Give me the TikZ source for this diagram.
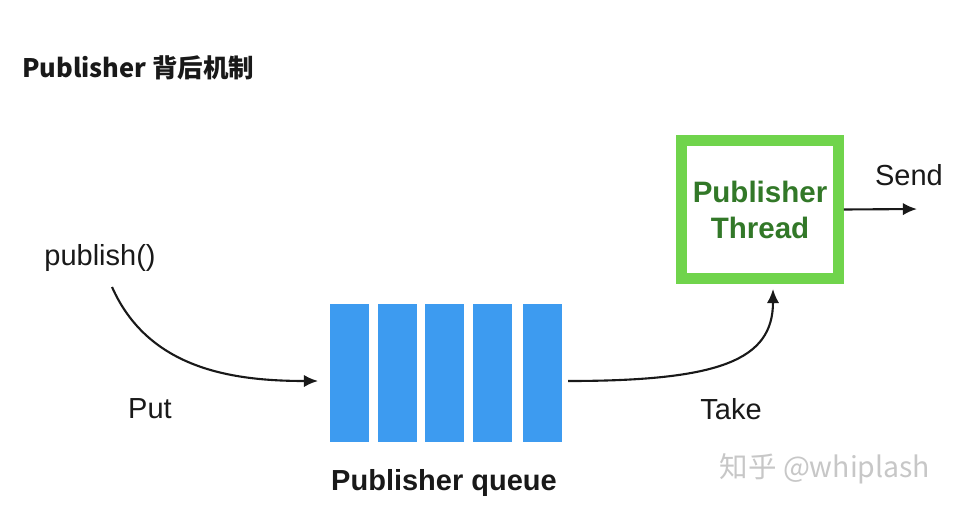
\documentclass[tikz,border=0pt]{standalone}
\usepackage{fontspec}
\setmainfont{Liberation Sans}
\newfontfamily\cjk{Noto Sans CJK SC}
\usetikzlibrary{arrows.meta}
\definecolor{qblue}{RGB}{61,155,240}
\definecolor{tgreen}{RGB}{112,212,76}
\definecolor{dgreen}{RGB}{50,120,40}
\definecolor{ink}{RGB}{25,25,25}
\tikzset{
  lbl/.style={inner sep=0pt, text=ink, font=\fontsize{16.5}{18}\selectfont},
  bar/.style={fill=qblue, draw=none, minimum width=39*0.02cm, minimum height=138*0.02cm, inner sep=0pt},
  conn/.style={line width=1.2pt, draw=ink, -{Latex[length=8pt,width=7pt]}},
}
\begin{document}
\begin{tikzpicture}[x=0.02cm,y=-0.02cm]
\useasboundingbox[fill=white] (0,0) rectangle (967,524);
% title
\node[anchor=west, inner sep=0pt, text=ink, font=\cjk\bfseries\fontsize{14.5}{16}\selectfont] (title) at (22,68) {Publisher 背后机制};
% labels
\node[lbl] (pub) at (100,258) {publish()};
\node[lbl] (put) at (150,409) {Put};
\node[lbl] (take) at (731,409) {Take};
\node[lbl] (send) at (909,175) {Send};
% queue bars
\node[bar] (b1) at (349.5,373) {};
\node[bar] (b2) at (397.5,373) {};
\node[bar] (b3) at (444.5,373) {};
\node[bar] (b4) at (492.5,373) {};
\node[bar] (b5) at (542,373) {};
\node[inner sep=0pt, text=ink, font=\bfseries\fontsize{16.5}{18}\selectfont] (qlabel) at (444,483) {Publisher queue};
% thread box
\node[draw=tgreen, line width=11*0.567pt, minimum width=157*0.02cm, minimum height=137.5*0.02cm, inner sep=0pt,
      align=center, text=dgreen, font=\bfseries\fontsize{16.8}{20.5}\selectfont] (thread) at (760,209.5) {Publisher\\Thread};
% endpoints
\coordinate (p0) at (112,287);
\coordinate (p1) at (318,381);
\coordinate (t0) at (568,381);
\coordinate (t1) at (773,289);
\coordinate (s1) at (917,209);
% connectors
\draw[conn] (p0) .. controls (148,368) and (230,381) .. (p1);
\draw[conn] (t0) .. controls (720,381) and (773,360) .. (t1);
\draw[conn] (thread.east) -- (s1);
% watermark
\node[inner sep=0pt, text=black!22, font=\cjk\fontsize{16.2}{19}\selectfont] (wm) at (825,469) {知乎 @whiplash};
\end{tikzpicture}
\end{document}
